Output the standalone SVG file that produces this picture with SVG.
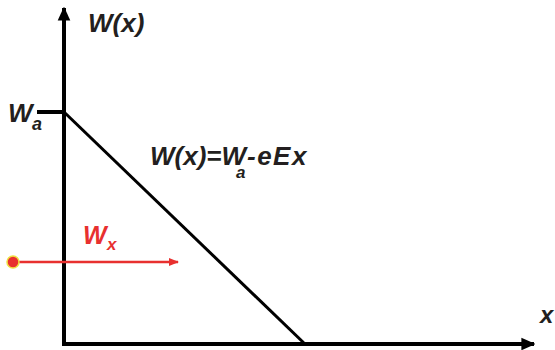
<svg xmlns="http://www.w3.org/2000/svg" width="555" height="350" viewBox="0 0 555 350">
<style>
.t{font-family:"Liberation Sans",Arial,sans-serif;font-weight:bold;font-style:italic;fill:#231f20}
.r{fill:#e8302f}
</style>
<defs>
<marker id="ah" viewBox="0 0 10 10" refX="9" refY="5" markerWidth="3.5" markerHeight="3.5" orient="auto" markerUnits="strokeWidth"><path d="M0,0.5 L10,5 L0,9.5 z" fill="#000"/></marker>
<marker id="rh" viewBox="0 0 10 10" refX="9" refY="5" markerWidth="4" markerHeight="4" orient="auto" markerUnits="strokeWidth"><path d="M0,1 L10,5 L0,9 z" fill="#e8302f"/></marker>
</defs>
<g id="connectors">
<line x1="64" y1="346" x2="64" y2="8" stroke="#000" stroke-width="4" marker-end="url(#ah)"/>
<line x1="62" y1="344" x2="534" y2="344" stroke="#000" stroke-width="4" marker-end="url(#ah)"/>
<line x1="37" y1="112" x2="64" y2="112" stroke="#000" stroke-width="4"/>
<line x1="64" y1="112" x2="306" y2="345" stroke="#000" stroke-width="3"/>
<line x1="14" y1="262" x2="178" y2="262" stroke="#e8302f" stroke-width="2.5" marker-end="url(#rh)"/>
</g>
<g id="dot"><circle cx="13" cy="262" r="6" fill="#e8302f" stroke="#f0e040" stroke-width="1.5"/></g>
<g id="label-w-axis"><text class="t" x="88" y="32" font-size="26">W(x)</text></g>
<g id="label-wa"><text class="t" x="8" y="122" font-size="26">W</text><text class="t" x="32" y="130" font-size="18">a</text></g>
<g id="label-eq"><text class="t" x="150" y="165" font-size="26">W(x)=W</text><text class="t" x="236" y="178" font-size="17">a</text><text class="t" x="247" y="165" font-size="26" letter-spacing="1.5">-eEx</text></g>
<g id="label-wxred"><text class="t" x="83" y="244" font-size="25" style="fill:#e8302f">W</text><text class="t" x="107" y="250" font-size="17" style="fill:#e8302f">x</text></g>
<g id="label-x"><text class="t" x="540" y="323" font-size="24">x</text></g>
</svg>
